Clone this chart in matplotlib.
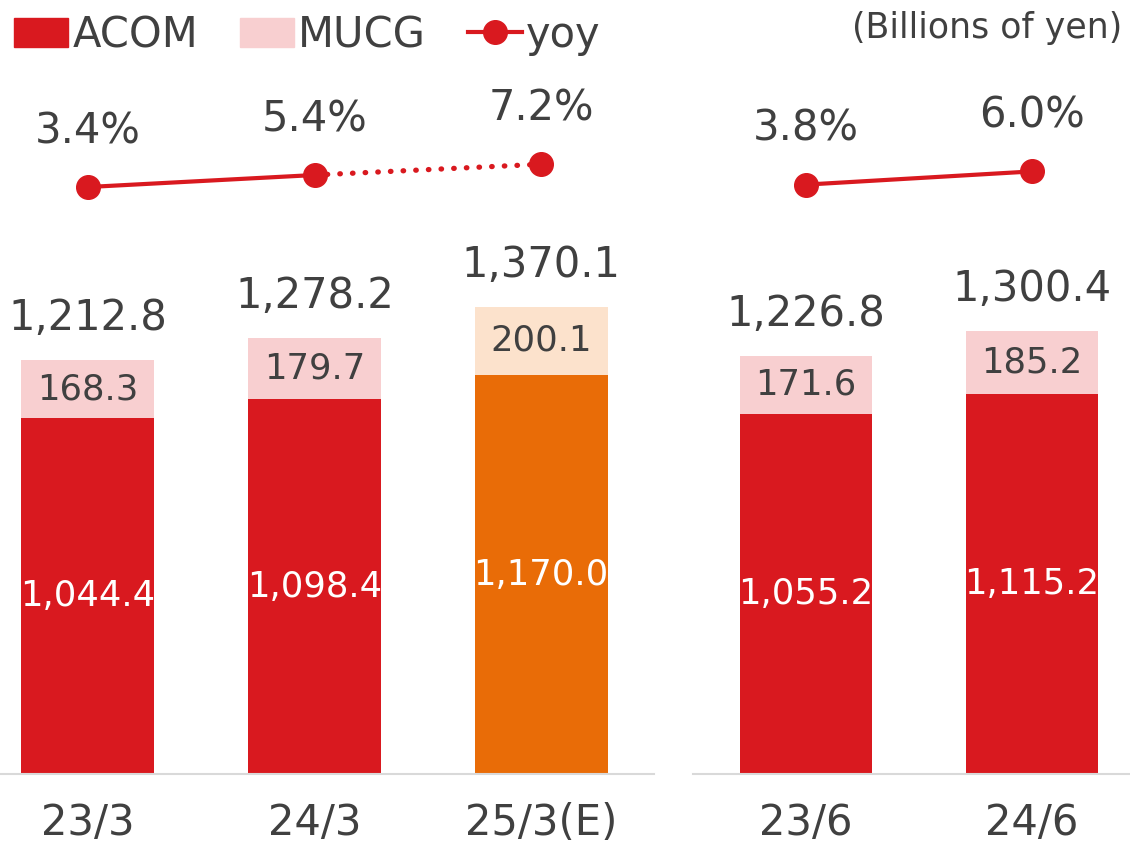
import matplotlib
matplotlib.use("Agg")
import matplotlib.pyplot as plt
from matplotlib.patches import Patch
from matplotlib.lines import Line2D

plt.rcParams['font.family'] = ['DejaVu Sans']

left_cats = ['23/3', '24/3', '25/3(E)']
left_acom = [1044.4, 1098.4, 1170.0]
left_mucg = [168.3, 179.7, 200.1]
left_total = [1212.8, 1278.2, 1370.1]
left_yoy = [3.4, 5.4, 7.2]

right_cats = ['23/6', '24/6']
right_acom = [1055.2, 1115.2]
right_mucg = [171.6, 185.2]
right_total = [1226.8, 1300.4]
right_yoy = [3.8, 6.0]

RED = '#D9191F'
PINK = '#F8CFD0'
ORANGE = '#E96C07'
PEACH = '#FCE2CC'
TXT = '#404040'
AXC = '#D9D9D9'

W, H = 1130, 846
fig = plt.figure(figsize=(W / 100, H / 100), dpi=100)

YMAX = 774 / 0.341
Y2 = (-94.43, 34.57)


def panel(rect, cats, acom, mucg, total, yoy, acol, mcol, xlim, dotted_last):
    ax = fig.add_axes(rect)
    x = list(range(len(cats)))
    ax.bar(x, acom, width=0.586, color=acol, zorder=2)
    ax.bar(x, mucg, bottom=acom, width=0.586, color=mcol, zorder=2)
    ax.set_xlim(*xlim)
    ax.set_ylim(0, YMAX)
    for s in ['top', 'right', 'left']:
        ax.spines[s].set_visible(False)
    ax.spines['bottom'].set_color(AXC)
    ax.spines['bottom'].set_linewidth(1.5)
    ax.set_yticks([])
    ax.set_xticks(x)
    ax.set_xticklabels(cats, fontsize=30, color=TXT)
    ax.tick_params(axis='x', length=0, pad=20)
    for i in x:
        ax.text(i, acom[i] / 2, f'{acom[i]:,.1f}', ha='center', va='center',
                fontsize=25.5, color='white', zorder=3)
        ax.text(i, acom[i] + mucg[i] / 2, f'{mucg[i]:,.1f}', ha='center', va='center',
                fontsize=25.5, color=TXT, zorder=3)
        ax.annotate(f'{total[i]:,.1f}', (i, acom[i] + mucg[i]), xytext=(0, 42),
                    textcoords='offset pixels', ha='center', va='center',
                    fontsize=30, color=TXT)
    ax2 = ax.twinx()
    ax2.set_ylim(*Y2)
    ax2.axis('off')
    n = len(yoy)
    solid_n = n - 1 if dotted_last else n
    ax2.plot(x[:solid_n], yoy[:solid_n], color=RED, lw=3, marker='o', ms=17, zorder=4)
    if dotted_last:
        ax2.plot(x[-2:], yoy[-2:], color=RED, lw=3.8, linestyle=(0, (0.1, 2.3)),
                 dash_capstyle='round', zorder=3)
        ax2.plot([x[-1]], [yoy[-1]], color=RED, marker='o', ms=17, ls='none', zorder=4)
    for i in x:
        ax2.annotate(f'{yoy[i]:.1f}%', (i, yoy[i]), xytext=(0, 56),
                     textcoords='offset pixels', ha='center', va='center',
                     fontsize=30, color=TXT)
    return ax


left_ax = panel([0, 72 / H, 654 / W, 774 / H], left_cats, left_acom, left_mucg,
                left_total, left_yoy, [RED, RED, ORANGE], [PINK, PINK, PEACH],
                (-88 / 227, 2 + 113 / 227), True)
right_ax = panel([693 / W, 72 / H, 437 / W, 774 / H], right_cats, right_acom, right_mucg,
                 right_total, right_yoy, RED, PINK,
                 (-113 / 226, 1 + 98 / 226), False)

handles = [Patch(color=RED, label='ACOM'), Patch(color=PINK, label='MUCG'),
           Line2D([0], [0], color=RED, lw=3, marker='o', ms=17, label='yoy')]
fig.legend(handles=handles, loc='upper left', bbox_to_anchor=(14 / W, 1 - 14 / H),
           ncol=3, frameon=False, fontsize=30, handlelength=1.3, handletextpad=0.1,
           columnspacing=1.0, borderpad=0, borderaxespad=0, labelcolor=TXT)

fig.text(1122 / W, 1 - 28 / H, '(Billions of yen)', ha='right', va='center',
         fontsize=25, color=TXT)

fig.savefig('out.png', dpi=100)
